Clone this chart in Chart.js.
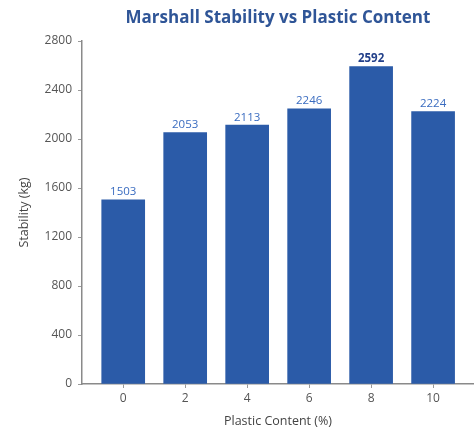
<!DOCTYPE html>
<html>
<head>
<meta charset="utf-8">
<script src="https://cdn.jsdelivr.net/npm/chart.js@4.4.1/dist/chart.umd.min.js"></script>
<style>
  html, body { margin: 0; padding: 0; background: #ffffff; }
  #wrap { width: 474px; height: 429px; }
</style>
</head>
<body>
<div id="wrap"><canvas id="c" width="474" height="429"></canvas></div>
<script>
// Plastic content (%) and measured Marshall stability (kg)
const plasticContent = [0, 2, 4, 6, 8, 10];
const stability = [1503, 2053, 2113, 2246, 2592, 2224];
const yTicks = [0, 400, 800, 1200, 1600, 2000, 2400, 2800];

const chartTitle = 'Marshall Stability vs Plastic Content';
const xTitle = 'Plastic Content (%)';
const yTitle = 'Stability (kg)';

const FONT = '"Open Sans", Lato, sans-serif';
const maxVal = Math.max(...stability);

// Title centred over the plot area, plus value labels above each bar
const annotate = {
  id: 'annotate',
  afterDatasetsDraw(chart) {
    const { ctx, chartArea } = chart;
    ctx.save();
    ctx.fillStyle = '#2f5597';
    ctx.font = 'bold 17px ' + FONT;
    ctx.textAlign = 'center';
    ctx.textBaseline = 'middle';
    ctx.fillText(chartTitle, (chartArea.left + chartArea.right) / 2, 18);

    const meta = chart.getDatasetMeta(0);
    meta.data.forEach((bar, i) => {
      const v = stability[i];
      const top = v === maxVal;
      ctx.font = (top ? 'bold ' : '') + '11.5px ' + FONT;
      ctx.fillStyle = top ? '#23408a' : '#3a6cc0';
      ctx.textBaseline = 'bottom';
      ctx.fillText(String(v), bar.x, bar.y - 2);
    });
    ctx.restore();
  }
};

new Chart(document.getElementById('c'), {
  type: 'bar',
  data: {
    datasets: [{
      data: plasticContent.map((x, i) => ({ x: x, y: stability[i] })),
      backgroundColor: '#2b5ba8',
      borderWidth: 0,
      barThickness: 43
    }]
  },
  options: {
    responsive: false,
    animation: false,
    layout: { padding: { top: 41, right: 0, bottom: 0, left: 17 } },
    plugins: {
      legend: { display: false },
      title: { display: false },
      tooltip: { enabled: false }
    },
    scales: {
      x: {
        type: 'linear',
        offset: false,
        min: -1.33,
        max: 11.32,
        afterBuildTicks(scale) { scale.ticks = plasticContent.map(v => ({ value: v })); },
        afterFit(scale) { scale.height = 45; },
        grid: { display: true, offset: false, drawOnChartArea: false, drawTicks: true, tickLength: 4, color: '#9a9a9a' },
        border: { display: true, color: '#8a8a8a', width: 1.5 },
        ticks: { color: '#555555', font: { family: FONT, size: 12 }, padding: 3, maxRotation: 0,
                 callback: v => String(v) },
        title: { display: true, text: xTitle, color: '#444444', font: { family: FONT, size: 12.5 }, padding: { top: 0, bottom: 0 } }
      },
      y: {
        min: 0,
        max: 2800,
        afterBuildTicks(scale) { scale.ticks = yTicks.map(v => ({ value: v })); },
        afterFit(scale) { scale.width = 65; },
        grid: { display: true, drawOnChartArea: false, drawTicks: true, tickLength: 4, color: '#9a9a9a' },
        border: { display: true, color: '#8a8a8a', width: 1.5 },
        ticks: { color: '#555555', font: { family: FONT, size: 12 }, padding: 6,
                 callback: v => String(v) },
        title: { display: true, text: yTitle, color: '#444444', font: { family: FONT, size: 12.5 }, padding: { top: 0, bottom: 2 } }
      }
    }
  },
  plugins: [annotate]
});
</script>
</body>
</html>
